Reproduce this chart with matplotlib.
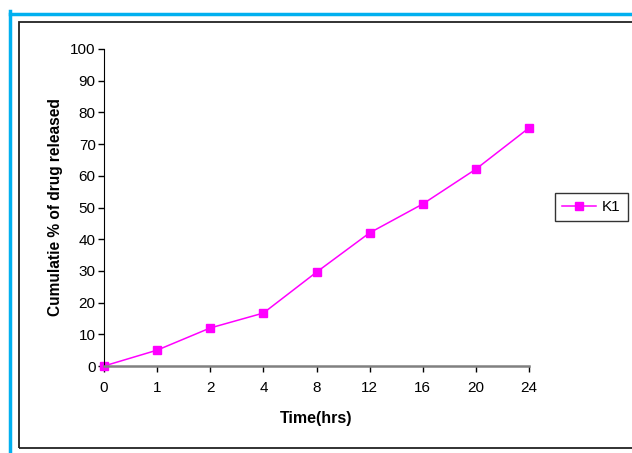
import matplotlib.pyplot as plt
from matplotlib.patches import Rectangle
from matplotlib.lines import Line2D

plt.rcParams['font.family'] = ['Liberation Sans', 'DejaVu Sans']

# Data
time_labels = ["0", "1", "2", "4", "8", "12", "16", "20", "24"]
k1_release = [0, 5.0, 12.0, 16.7, 29.6, 42.0, 51.1, 62.1, 75.1]

fig = plt.figure(figsize=(6.32, 4.53), dpi=100)
W, H = 632, 453

# Outer borders (blue and black frame)
fig.add_artist(Line2D([10.5 / W, 10.5 / W], [0, 1 - 10.5 / H], color="#00B0F0",
                      lw=2.5, transform=fig.transFigure))
fig.add_artist(Line2D([10.5 / W, 1], [1 - 13.5 / H, 1 - 13.5 / H], color="#00B0F0",
                      lw=2.5, transform=fig.transFigure))
fig.add_artist(Rectangle((19 / W, 1 - 448 / H), 1, (448 - 22) / H, fill=False,
                         edgecolor="#222222", lw=1.3, transform=fig.transFigure))

ax = fig.add_axes([104 / W, 1 - 366 / H, (529 - 104) / W, (366 - 49) / H])
x = list(range(len(time_labels)))
ax.plot(x, k1_release, color="#FF00FF", lw=1.1, marker="s", markersize=6,
        label="K1", clip_on=False)

ax.set_xlim(0, len(time_labels) - 1)
ax.set_ylim(0, 100)
ax.set_xticks(x)
ax.set_xticklabels(time_labels)
ax.set_yticks(range(0, 101, 10))
ax.tick_params(labelsize=11, length=4, width=1, pad=2)
ax.tick_params(axis="x", pad=7)

for s in ["top", "right"]:
    ax.spines[s].set_visible(False)
ax.spines["left"].set_color("black")
ax.spines["bottom"].set_color("#808080")
ax.spines["bottom"].set_linewidth(1.8)

ax.set_xlabel("Time(hrs)", fontsize=11.5, fontweight="bold", labelpad=11)
ax.set_ylabel("Cumulatie % of drug released", fontsize=11.2, fontweight="bold",
              labelpad=5)

leg = fig.legend(loc="center", bbox_to_anchor=(591.5 / W, 1 - 207 / H), fontsize=11,
                 frameon=True, fancybox=False, edgecolor="black",
                 borderpad=0.45, handlelength=2.2, handletextpad=0.4,
                 borderaxespad=0.3)
leg.get_frame().set_linewidth(1)

fig.savefig("out.png", dpi=100)
